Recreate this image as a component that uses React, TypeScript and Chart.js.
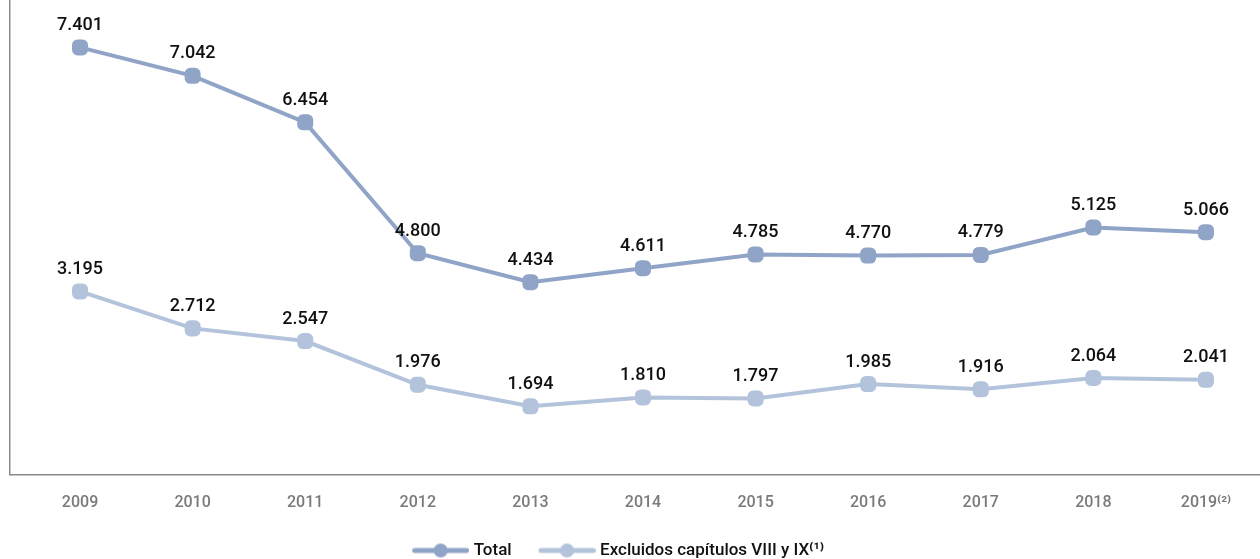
import React, { useEffect, useRef } from "react";
import { Chart, registerables } from "chart.js";

Chart.register(...registerables);

const years = [2009, 2010, 2011, 2012, 2013, 2014, 2015, 2016, 2017, 2018, 2019];
const yearLabels = ["2009", "2010", "2011", "2012", "2013", "2014", "2015", "2016", "2017", "2018", "2019⁽²⁾"];
const totalValues = [7401, 7042, 6454, 4800, 4434, 4611, 4785, 4770, 4779, 5125, 5066];
const excluidosValues = [3195, 2712, 2547, 1976, 1694, 1810, 1797, 1985, 1916, 2064, 2041];
const seriesNames = ["Total", "Excluidos capítulos VIII y IX⁽¹⁾"];

const TOTAL_COLOR = "#8fa4c6";
const EXCL_COLOR = "#b4c3dc";
const FONT = "Roboto";
const NBSP = "\u00a0";

function fmt(v: number) {
  return v.toLocaleString("de-DE");
}

function legendIcon(color: string) {
  const c = document.createElement("canvas");
  c.width = 61;
  c.height = 16;
  const ctx = c.getContext("2d")!;
  ctx.strokeStyle = color;
  ctx.lineWidth = 5;
  ctx.lineCap = "round";
  ctx.beginPath();
  ctx.moveTo(6.5, 8);
  ctx.lineTo(58.5, 8);
  ctx.stroke();
  ctx.fillStyle = color;
  ctx.beginPath();
  ctx.arc(32.5, 8, 7, 0, Math.PI * 2);
  ctx.fill();
  return c;
}

const dataLabels = {
  id: "dataLabels",
  afterDatasetsDraw(chart: any) {
    const ctx = chart.ctx;
    ctx.save();
    ctx.font = `500 18px ${FONT}`;
    ctx.fillStyle = "#111";
    ctx.textAlign = "center";
    ctx.textBaseline = "middle";
    chart.data.datasets.forEach((ds: any, i: number) => {
      const meta = chart.getDatasetMeta(i);
      meta.data.forEach((pt: any, j: number) => {
        ctx.fillText(fmt(ds.data[j].y), pt.x, pt.y - 22);
      });
    });
    ctx.restore();
  },
};

export default function App() {
  const ref = useRef<HTMLCanvasElement>(null);
  useEffect(() => {
    document.body.style.margin = "0";
    const chart = new Chart(ref.current!, {
      type: "line",
      data: {
        datasets: [
          {
            label: seriesNames[0],
            data: years.map((x, i) => ({ x, y: totalValues[i] })),
            borderColor: TOTAL_COLOR,
            backgroundColor: TOTAL_COLOR,
            borderWidth: 4,
            pointStyle: "rectRounded",
            pointRadius: 7,
            yAxisID: "y",
            clip: false,
          },
          {
            label: seriesNames[1],
            data: years.map((x, i) => ({ x, y: excluidosValues[i] })),
            borderColor: EXCL_COLOR,
            backgroundColor: EXCL_COLOR,
            borderWidth: 4,
            pointStyle: "rectRounded",
            pointRadius: 7,
            yAxisID: "y2",
            clip: false,
          },
        ],
      },
      options: {
        animation: false,
        responsive: false,
        layout: { autoPadding: false, padding: { left: 10, right: 0, top: 0, bottom: -10 } },
        scales: {
          x: {
            type: "linear",
            min: 2008.378,
            max: 2019.48,
            afterBuildTicks: (scale: any) => {
              scale.ticks = years.map((v) => ({ value: v }));
            },
            afterFit: (scale: any) => {
              scale.paddingRight = 0;
              scale.paddingLeft = 0;
            },
            grid: { display: false, drawTicks: false },
            border: { display: true, color: "#8a8a8a", width: 1.5 },
            ticks: {
              padding: 19,
              color: "#7a7a7a",
              font: { family: FONT, size: 16, weight: 500 },
              callback: (v: any) => yearLabels[years.indexOf(v)] ?? "",
              maxRotation: 0,
            },
          },
          y: {
            min: 2000,
            max: 8000,
            grid: { display: false, drawTicks: false },
            border: { display: true, color: "#8a8a8a", width: 1.5 },
            ticks: { display: false },
          },
          y2: {
            display: false,
            min: 800,
            max: 7000,
          },
        },
        plugins: {
          tooltip: { enabled: false },
          legend: {
            position: "bottom",
            labels: {
              usePointStyle: true,
              pointStyleWidth: 53,
              boxHeight: 16,
              padding: 10,
              color: "#111",
              font: { family: FONT, size: 17, weight: 500 },
              generateLabels: (chart: any) =>
                chart.data.datasets.map((ds: any, i: number) => ({
                  text: ds.label + (i === 0 ? NBSP.repeat(4) : NBSP.repeat(8)),
                  pointStyle: legendIcon(i === 0 ? TOTAL_COLOR : EXCL_COLOR),
                  fillStyle: ds.borderColor,
                  strokeStyle: ds.borderColor,
                  lineWidth: 0,
                  hidden: false,
                  datasetIndex: i,
                  fontColor: "#111",
                })),
            },
          },
        },
      },
      plugins: [dataLabels],
    });
    return () => chart.destroy();
  }, []);
  return <canvas ref={ref} width={1260} height={559} style={{ display: "block" }} />;
}
